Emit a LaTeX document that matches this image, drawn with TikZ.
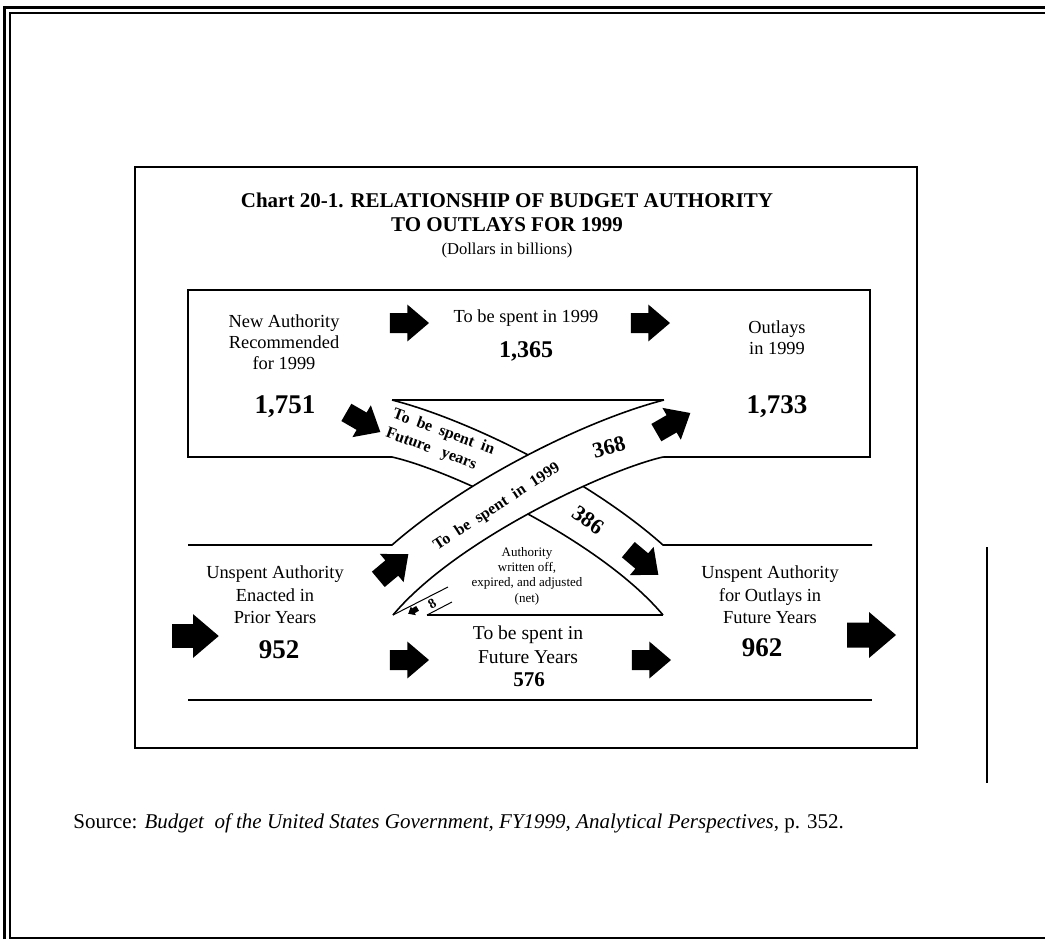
\documentclass[tikz,border=0pt]{standalone}
\usepackage{fontspec}
\setmainfont{Liberation Serif}
\usetikzlibrary{positioning}

\begin{document}
\begin{tikzpicture}[x=0.5pt,y=-0.5pt,
    lbl/.style={align=center,inner sep=0pt,font=\fontsize{9.2}{10.6}\selectfont},
    bignum/.style={inner sep=0pt,font=\fontsize{13.5}{14}\selectfont\bfseries},
    midnum/.style={inner sep=0pt,font=\fontsize{10.5}{12}\selectfont\bfseries},
    rib/.style={inner sep=0pt,align=left,font=\fontsize{8}{10}\selectfont\bfseries},
    edge/.style={line width=0.8pt},
    blkarrow/.pic={\fill (-24,-12.5) -- (-2,-12.5) -- (-2,-23) -- (25,0)
      -- (-2,23) -- (-2,12.5) -- (-24,12.5) -- cycle;}]
 \useasboundingbox (0,0) rectangle (1045,939);
 % page frame
 \draw[line width=1.5pt] (4.5,939) -- (4.5,7.5) -- (1045,7.5);
 \draw[line width=1pt] (1045,12.5) -- (9.5,12.5) -- (9.5,937.5) -- (1045,937.5);
 \draw[line width=0.7pt] (987,547) -- (987,783);
 % chart
 \draw[edge] (135,167) rectangle (917,748);
 \node[inner sep=0pt,font=\fontsize{10.5}{12}\selectfont\bfseries] (ttl1) at (507,200)
  {Chart 20-1. RELATIONSHIP OF BUDGET AUTHORITY};
 \node[inner sep=0pt,font=\fontsize{10.5}{12}\selectfont\bfseries] (ttl2) at (507,225)
  {TO OUTLAYS FOR 1999};
 \node[inner sep=0pt,font=\fontsize{8.3}{9}\selectfont] (ttl3) at (507,250)
  {(Dollars in billions)};
 % upper box
 \draw[edge] (392,457) -- (188,457) -- (188,290) -- (870,290) -- (870,457) -- (663,457);
 \node[lbl] (newauth) at (284,342) {New Authority\\Recommended\\for 1999};
 \node[bignum] (n1751) at (285,407) {1,751};
 \node[lbl] (spent99) at (526,318) {To be spent in 1999};
 \node[midnum,font=\fontsize{12}{13}\selectfont\bfseries,below=7pt of spent99] (n1365) {1,365};
 \node[lbl] (outl) at (777,338) {Outlays\\in 1999};
 \node[bignum] (n1733) at (777,407) {1,733};
 % ribbons, the 1999 one lies on top
 \draw[edge] (392,400) .. controls (470,420) and (590,480) .. (663,545) -- (872,545);
 \draw[edge] (392,457) .. controls (450,470) and (600,540) .. (663,615);
 \fill[white] (392,545) .. controls (466,480) and (586,420) .. (664,400) -- (663,457)
  .. controls (606,470) and (456,540) .. (393,615) -- cycle;
 \draw[edge] (188,545) -- (392,545) .. controls (466,480) and (586,420) .. (664,400);
 \draw[edge] (663,457) .. controls (606,470) and (456,540) .. (393,615);
 \draw[edge] (392,400) -- (664,400);
 \draw[edge] (427,615) -- (663,615);
 \draw[edge] (188,700) -- (872,700);
 \draw[line width=0.5pt] (393,615) -- (448,587);
 \draw[line width=0.5pt] (427,615) -- (452,602);
 \node[rib,rotate=-20] (futyr) at (440,442) {To\ \ be\ \ spent\ \ in\\Future\ \ \ years};
 \node[rib,rotate=33] (sp1999) at (497,507) {To\ \ be\ \ spent\ \ in\ \ 1999};
 \node[inner sep=0pt,font=\fontsize{11}{12}\selectfont\bfseries,rotate=15] (n368) at (609,447) {368};
 \node[inner sep=0pt,font=\fontsize{11}{12}\selectfont\bfseries,rotate=-35] (n386) at (588,520) {386};
 \node[inner sep=0pt,font=\fontsize{6.5}{7.7}\selectfont,align=center] (wroff) at (527,576)
  {Authority\\written off,\\expired, and adjusted\\(net)};
 \node[inner sep=0pt,font=\fontsize{7}{8}\selectfont\bfseries,rotate=30] (n8) at (432,604) {8};
 % lower band
 \node[lbl,font=\fontsize{9.2}{11.2}\selectfont] (unsp) at (275,595) {Unspent Authority\\Enacted in\\Prior Years};
 \node[bignum] (n952) at (279,650) {952};
 \node[lbl,font=\fontsize{9.8}{12}\selectfont] (futsp) at (528,645) {To be spent in\\Future Years};
 \node[midnum] (n576) at (529,680) {576};
 \node[lbl,font=\fontsize{9.2}{11.2}\selectfont] (unspr) at (770,595) {Unspent Authority\\for Outlays in\\Future Years};
 \node[bignum] (n962) at (762,648) {962};
 % block arrows
 \pic[scale=.8] (ar1) at (409,323) {blkarrow};
 \pic[scale=.8] (ar2) at (650,323) {blkarrow};
 \pic[scale=.8,rotate=-30] (ar3) at (363,422) {blkarrow};
 \pic[scale=.8,rotate=30] (ar4) at (673,423) {blkarrow};
 \pic[scale=.8,rotate=40] (ar5) at (393,567) {blkarrow};
 \pic[scale=.8,rotate=-40] (ar6) at (643,562) {blkarrow};
 \pic[scale=.8] (ar7) at (409,660) {blkarrow};
 \pic[scale=.8] (ar8) at (651,660) {blkarrow};
 \pic[scale=.95] (ar9) at (195,636) {blkarrow};
 \pic (ar10) at (871,635) {blkarrow};
 \pic[scale=.22,rotate=210] (ar11) at (413,611) {blkarrow};
 % source
 \node[anchor=west,inner sep=0pt,font=\fontsize{10.5}{12}\selectfont] (src) at (73,823)
  {Source: \textit{Budget\ \ of the United States Government, FY1999, Analytical Perspectives}, p. 352.};
\end{tikzpicture}
\end{document}
